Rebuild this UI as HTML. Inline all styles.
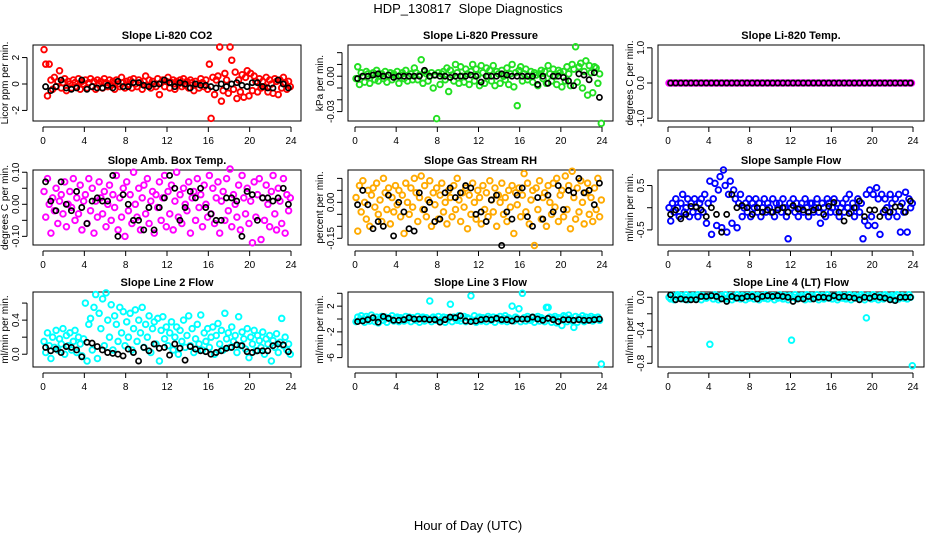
<!DOCTYPE html>
<html><head><meta charset="utf-8"><style>
body{margin:0;background:#fff;}
svg{display:block;font-family:"Liberation Sans",sans-serif;}
</style></head><body>
<svg id="chart" width="936" height="540" viewBox="0 0 936 540">
<text x="468" y="13" text-anchor="middle" font-size="13">HDP_130817&#160;&#160;Slope Diagnostics</text>
<text x="468" y="530" text-anchor="middle" font-size="13">Hour of Day (UTC)</text>
</svg>
<script>
const co2Vals=[2.6,1.5,-0.9,1.5,0.3,-0.4,0.5,-0.2,0.2,1.0,-0.3,0.1,0.4,-0.5,0.2,0.0,-0.3,0.3,0.1,-0.2,0.4,-0.4,0.2,0.0,
0.3,-0.3,0.1,0.4,-0.2,0.2,-0.4,0.3,0.0,0.2,-0.3,0.4,0.1,-0.2,0.3,-0.1,0.2,-0.4,0.3,0.0,-0.2,0.5,0.1,-0.3,
0.2,-0.1,0.3,-0.3,0.4,0.0,-0.2,0.3,0.1,-0.4,0.2,0.6,-0.1,0.3,-0.3,0.2,0.0,-0.2,0.4,-0.8,0.1,0.3,-0.2,0.2,
0.5,-0.3,0.1,0.3,-0.4,0.2,0.0,0.3,-0.2,0.4,-0.1,0.2,-0.3,0.3,0.1,-0.5,0.2,0.0,-0.3,0.4,0.1,-0.2,0.3,-0.4,
1.5,-2.6,0.5,-0.8,0.3,0.6,2.8,-1.3,-0.5,0.8,0.3,-0.7,2.8,1.8,-0.4,0.9,-1.1,0.3,-0.6,0.7,-1.0,0.5,1.0,-0.9,
0.8,-0.5,0.6,0.2,-0.6,0.4,-0.3,0.2,-0.2,0.5,-0.6,0.3,0.0,-0.7,0.4,0.2,-0.8,0.3,-0.3,0.5,0.1,-0.4,0.2,-0.2];
const co2Mean=[-0.2,-0.5,-0.2,0.3,-0.3,-0.4,-0.3,0.3,-0.4,-0.2,-0.3,-0.3,-0.1,-0.3,0.2,-0.2,-0.2,0.1,0.1,-0.1,-0.2,0.0,0.0,0.3,0.1,-0.2,0.1,0.0,-0.3,0.0,-0.1,-0.1,-0.2,-0.3,0.0,-0.2,0.0,0.1,-0.1,-0.2,0.1,0.1,-0.2,-0.3,-0.3,0.3,0.0,-0.3];
const presVals=[-0.002,0.008,-0.007,0.003,0.000,-0.005,0.004,0.002,-0.006,0.001,0.003,-0.003,0.005,-0.004,0.000,0.002,-0.002,0.004,-0.005,0.001,0.003,-0.003,0.002,0.000,
0.004,-0.006,0.001,0.003,-0.002,0.005,-0.004,0.000,0.002,-0.003,0.007,0.003,-0.003,0.001,0.014,-0.006,0.004,0.002,-0.004,0.000,0.003,-0.010,0.001,-0.036,
0.003,-0.007,0.002,0.004,-0.003,0.007,-0.013,0.005,0.001,-0.004,0.010,0.003,-0.006,0.008,0.000,-0.005,0.006,0.002,-0.007,0.004,0.010,-0.004,0.006,0.001,
-0.008,0.009,0.003,-0.006,0.007,0.000,0.005,-0.004,0.009,-0.008,0.004,0.002,-0.006,0.005,0.000,-0.003,0.007,-0.007,0.002,0.010,-0.009,0.003,-0.025,0.005,
0.008,-0.004,0.002,0.006,-0.003,0.000,0.004,-0.005,0.003,0.001,-0.008,0.002,0.005,-0.002,0.004,-0.006,0.009,0.002,-0.004,0.006,0.000,-0.007,0.005,0.003,
-0.009,0.004,-0.004,0.008,0.002,-0.008,0.010,0.006,0.025,-0.005,0.008,0.011,-0.010,0.004,0.013,-0.016,0.009,0.003,-0.014,0.008,0.007,-0.006,0.002,-0.040];
const presMean=[-0.002,0.000,0.000,0.001,0.002,0.000,0.001,-0.001,0.000,0.000,0.000,0.000,0.000,0.005,0.000,0.001,0.000,0.000,-0.001,0.000,0.000,0.000,0.001,0.000,-0.005,0.000,0.000,0.000,0.002,0.001,0.000,0.000,0.000,0.000,0.000,-0.007,0.000,-0.006,0.000,0.000,-0.001,-0.004,-0.008,0.002,0.001,-0.003,0.003,-0.018];
const tempVals=[0,0,0,0,0,0,0,0,0,0,0,0,0,0,0,0,0,0,0,0,0,0,0,0,0,0,0,0,0,0,0,0,0,0,0,0,0,0,0,0,0,0,0,0,0,0,0,0,
0,0,0,0,0,0,0,0,0,0,0,0,0,0,0,0,0,0,0,0,0,0,0,0,0,0,0,0,0,0,0,0,0,0,0,0,0,0,0,0,0,0,0,0,0,0,0,0];
const tempMean=[0,0,0,0,0,0,0,0,0,0,0,0,0,0,0,0,0,0,0,0,0,0,0,0,0,0,0,0,0,0,0,0,0,0,0,0,0,0,0,0,0,0,0,0,0,0,0,0];
const ambVals=[0.04,-0.04,0.08,0.00,-0.09,0.02,-0.02,0.05,-0.06,0.01,0.03,-0.03,0.07,-0.07,0.00,0.04,-0.01,0.08,-0.05,0.02,-0.03,0.06,-0.08,0.01,
0.03,-0.06,0.08,-0.02,0.05,-0.09,0.01,-0.04,0.07,0.02,-0.03,0.04,-0.07,0.00,0.06,-0.05,0.03,-0.01,0.09,-0.08,0.02,-0.04,0.05,-0.10,
0.07,-0.02,0.03,-0.06,0.10,0.00,-0.04,0.05,-0.08,0.02,0.06,-0.03,0.08,-0.06,0.01,0.04,-0.09,0.03,-0.01,0.07,-0.05,0.02,0.09,-0.07,
0.04,-0.03,0.06,-0.08,0.01,0.10,-0.04,0.03,-0.06,0.05,0.00,-0.02,0.07,-0.09,0.02,0.04,-0.05,0.08,-0.01,0.03,-0.07,0.06,0.00,-0.04,
0.09,-0.03,0.05,-0.06,0.02,0.07,-0.09,0.01,0.04,-0.05,0.08,-0.02,0.11,-0.07,0.03,0.00,-0.04,0.06,-0.08,0.09,0.02,-0.03,0.05,-0.06,
0.01,-0.12,0.07,-0.04,0.03,0.08,-0.11,0.02,-0.05,0.06,0.00,-0.07,0.04,0.09,-0.03,-0.08,0.05,0.01,-0.06,0.08,-0.09,0.03,-0.02,0.02];
const ambMean=[0.07,0.01,-0.02,0.07,0.00,-0.02,0.04,-0.01,-0.06,0.01,0.02,0.01,0.01,0.09,-0.10,0.03,0.00,-0.05,-0.05,-0.08,-0.01,-0.08,-0.01,0.02,0.09,0.05,-0.05,-0.01,0.04,0.02,0.05,-0.01,-0.03,-0.05,-0.05,0.02,0.02,0.01,-0.10,0.04,0.03,-0.05,0.02,0.02,0.01,0.02,0.05,0.00];
const rhVals=[0.02,-0.12,0.07,-0.04,0.09,0.00,-0.07,0.05,-0.10,0.03,0.06,-0.02,0.08,-0.05,0.01,-0.08,0.10,0.04,-0.03,0.06,-0.09,0.02,-0.04,0.07,
-0.01,0.05,-0.06,0.03,-0.13,0.08,0.00,-0.05,0.06,-0.02,0.10,0.04,-0.08,0.02,0.11,-0.03,0.07,-0.06,0.01,0.09,-0.10,0.04,-0.01,0.06,
-0.07,0.03,0.08,-0.04,0.00,-0.09,0.05,0.02,-0.06,0.07,-0.03,0.10,0.01,-0.08,0.04,-0.02,0.06,-0.11,0.03,-0.05,0.08,0.00,-0.07,0.05,
0.02,-0.09,0.07,-0.03,0.04,-0.06,0.09,0.01,-0.04,0.06,-0.10,0.03,0.00,0.08,-0.05,0.02,-0.08,0.05,-0.02,0.07,-0.13,0.04,-0.01,0.06,
-0.06,0.03,0.12,-0.04,0.08,-0.09,0.01,0.05,-0.18,0.06,-0.03,0.09,-0.07,0.02,0.04,-0.10,0.07,0.00,-0.05,0.08,-0.02,0.10,-0.08,0.03,
0.05,-0.06,0.11,-0.03,0.07,-0.11,0.13,0.02,-0.07,0.06,-0.04,0.09,0.00,-0.09,0.04,0.08,-0.05,0.02,-0.08,0.06,-0.03,0.10,-0.06,0.01];
const rhMean=[-0.01,0.05,-0.01,-0.11,-0.08,-0.10,0.03,-0.14,0.00,-0.04,-0.11,-0.12,0.04,-0.03,0.00,-0.08,-0.07,0.04,0.06,0.02,0.04,0.07,0.06,-0.05,-0.04,-0.08,0.01,0.03,-0.18,-0.04,-0.07,0.03,0.06,-0.06,-0.10,0.02,-0.07,0.03,-0.04,0.07,-0.03,0.05,0.04,0.10,0.04,0.05,-0.01,0.08];
const sampVals=[0.0,-0.3,0.1,-0.1,0.2,0.0,-0.2,0.1,0.3,-0.1,0.0,0.2,-0.2,0.1,-0.1,0.2,0.0,-0.2,0.1,0.2,-0.1,0.3,-0.35,0.1,
0.6,-0.6,0.2,0.55,-0.4,0.4,0.7,-0.45,0.85,0.5,-0.55,0.3,0.6,-0.35,0.4,0.2,-0.45,0.1,0.3,-0.2,0.0,0.1,-0.1,0.2,
-0.2,0.1,0.0,0.2,-0.1,0.1,-0.2,0.0,0.2,-0.1,0.1,0.0,-0.1,0.2,-0.2,0.1,0.0,0.1,-0.1,0.2,0.0,-0.2,-0.7,0.1,
0.0,0.2,-0.1,0.1,-0.2,0.0,0.1,-0.1,0.2,0.0,-0.2,0.1,0.1,-0.1,0.0,0.2,-0.1,-0.35,0.1,0.0,-0.2,0.2,0.1,-0.1,
0.0,0.2,-0.1,0.1,-0.2,0.0,0.1,-0.1,0.2,0.0,0.3,-0.1,0.1,-0.2,0.0,0.2,-0.1,0.1,-0.7,-0.3,0.3,-0.4,0.4,-0.2,
0.3,-0.4,0.45,0.2,-0.6,0.3,-0.1,0.2,0.0,-0.2,0.3,0.1,-0.1,0.2,-0.2,0.3,-0.55,0.1,-0.1,0.35,-0.55,0.2,0.0,0.1];
const sampMean=[-0.15,-0.05,-0.25,-0.15,0.03,0.02,-0.05,-0.2,0.0,-0.15,-0.55,-0.15,0.3,0.0,0.05,0.0,-0.15,0.0,-0.1,-0.05,-0.1,-0.05,0.0,-0.1,0.05,-0.03,-0.05,-0.1,-0.05,0.0,-0.15,0.03,0.12,-0.1,-0.3,-0.13,0.0,0.15,-0.2,-0.05,-0.05,-0.2,-0.05,-0.1,0.02,0.03,-0.1,0.15];
const l2Vals=[0.15,0.02,0.25,0.10,-0.05,0.20,0.08,0.28,0.05,0.18,0.12,0.30,0.00,0.22,0.10,0.25,0.05,0.15,0.28,0.02,0.20,0.12,-0.02,0.18,
0.60,-0.08,0.35,0.42,0.05,0.55,0.70,-0.05,0.48,0.30,0.65,0.10,0.72,0.40,0.20,0.58,0.05,0.45,0.35,0.15,0.55,0.25,0.50,0.10,
0.38,0.20,0.48,0.05,0.30,0.52,0.15,0.40,0.25,0.55,0.08,0.35,0.20,0.45,0.02,0.30,0.38,0.12,0.42,-0.08,0.28,0.44,0.18,0.32,
0.10,0.25,0.38,0.05,0.20,0.32,0.00,0.28,0.15,0.40,0.08,0.22,0.45,0.10,0.30,0.02,0.18,0.35,0.12,0.46,0.05,0.25,0.15,0.30,
0.08,0.20,0.32,0.00,0.22,0.36,0.12,0.28,0.05,0.48,0.18,0.25,0.08,0.32,0.15,0.22,0.02,0.44,0.10,0.26,0.18,0.06,0.30,-0.04,
0.20,0.12,0.28,0.04,0.22,0.16,0.08,0.26,0.00,0.18,0.12,0.22,-0.08,0.16,0.08,0.24,0.02,0.14,0.42,0.10,0.20,0.05,0.12,0.00];
const l2Mean=[0.08,0.04,0.06,0.02,0.09,0.08,0.05,-0.03,0.14,0.13,0.09,0.05,0.02,0.01,0.00,-0.02,0.06,0.02,-0.08,0.08,0.04,0.12,0.07,0.08,-0.01,0.12,0.07,-0.07,0.09,0.06,0.04,0.03,0.0,0.02,0.04,0.07,0.08,0.11,0.10,0.03,0.02,0.04,0.04,0.04,0.10,0.12,0.11,0.03];
const l3Vals=[-0.4,0.3,-0.2,0.5,0.0,-0.5,0.4,0.1,-0.3,0.6,0.2,-0.4,0.3,-0.6,0.1,0.4,-0.2,0.3,-0.5,0.2,0.0,0.5,-0.3,0.1,
0.3,-0.4,0.2,0.0,-0.3,0.4,-0.1,0.3,-0.4,0.2,0.0,-0.2,0.4,-0.5,0.1,0.3,-0.3,0.2,0.0,2.8,-0.4,0.3,0.1,-0.2,
0.4,-0.3,0.0,0.3,-0.5,0.2,0.1,2.3,-0.4,0.3,0.0,-0.2,0.5,-0.3,0.1,0.4,-0.4,0.2,0.0,3.6,-0.2,0.5,-0.5,0.1,
0.3,-0.3,0.2,0.0,-0.4,0.4,0.1,-0.2,0.3,-0.5,0.2,0.0,0.4,-0.3,0.1,0.5,-0.4,0.2,0.0,2.0,-0.3,0.3,0.1,1.6,
-0.4,4.0,0.2,-0.3,0.4,0.0,-0.2,0.3,-0.5,0.1,0.4,-0.3,0.2,0.0,-0.4,1.8,1.8,0.3,-0.5,0.1,0.4,-0.6,0.2,0.0,
-1.0,0.5,0.3,-0.4,0.6,0.1,-0.3,-1.3,0.4,-0.5,0.2,0.0,0.5,-0.4,0.3,-0.2,0.1,0.4,-0.3,0.2,0.0,0.3,-0.2,-7.0];
const l3Mean=[-0.4,-0.3,-0.1,0.2,-0.5,0.4,0.1,-0.2,-0.2,-0.1,0.2,0.0,0.0,0.0,-0.1,-0.1,-0.5,-0.1,0.3,0.2,0.5,-0.3,-0.4,-0.3,-0.1,0.0,-0.1,0.1,-0.1,-0.1,-0.3,0.0,0.0,0.0,0.3,0.0,-0.2,0.1,-0.1,-0.4,-0.1,-0.1,-0.2,-0.1,-0.2,-0.2,-0.1,0.0];
const l4Vals=[0.00,-0.02,0.02,-0.03,0.01,0.03,-0.01,0.02,-0.02,0.00,0.03,-0.03,0.01,-0.01,0.02,0.00,-0.02,0.03,0.01,-0.03,0.02,0.00,-0.01,0.01,
-0.57,0.02,-0.02,0.03,0.00,-0.03,0.01,0.02,-0.01,0.03,-0.02,0.00,0.02,-0.03,0.01,-0.01,0.03,0.00,-0.02,0.02,0.01,-0.03,0.02,-0.01,
0.00,0.03,-0.02,0.01,0.02,-0.03,0.00,0.02,-0.01,0.03,-0.02,0.01,0.00,0.02,-0.03,0.01,-0.01,0.03,0.00,-0.02,0.02,0.01,-0.03,0.02,
-0.52,0.00,0.03,-0.02,0.01,-0.01,0.02,0.00,-0.03,0.03,0.01,-0.02,0.02,0.00,-0.01,0.03,-0.03,0.01,0.02,-0.02,0.00,0.03,-0.01,0.01,
-0.02,0.02,0.00,-0.03,0.03,0.01,-0.01,0.02,-0.02,0.00,0.03,-0.03,0.01,0.02,-0.01,0.00,-0.02,0.03,0.01,-0.03,-0.25,0.02,0.00,-0.02,
0.03,-0.01,0.01,-0.03,0.02,0.00,-0.02,0.03,0.01,-0.01,0.00,0.02,-0.03,0.01,0.03,-0.02,0.00,0.02,-0.01,0.01,-0.02,0.03,0.00,-0.83];
const l4Mean=[0.03,-0.03,-0.02,-0.03,-0.03,-0.03,0.01,0.01,0.02,0.01,-0.02,-0.05,0.01,-0.01,-0.01,0.01,0.01,-0.02,0.01,0.02,0.01,0.02,0.01,0.0,-0.05,-0.02,-0.02,0.01,-0.02,0.0,0.0,-0.01,0.02,0.0,0.01,0.0,-0.01,-0.03,0.0,-0.01,0.01,0.0,-0.01,-0.03,-0.04,0.0,0.0,0.0];
const xTicks=[0,4,8,12,16,20,24];
const panelTitles=["Slope Li-820 CO2","Slope Li-820 Pressure","Slope Li-820 Temp.","Slope Amb. Box Temp.","Slope Gas Stream RH","Slope Sample Flow","Slope Line 2 Flow","Slope Line 3 Flow","Slope Line 4 (LT) Flow"];
const yTitles=["Licor ppm per min.","kPa per min.","degrees C per min.","degrees C per min.","percent per min.","ml/min per min.","ml/min per min.","ml/min per min.","ml/min per min."];
const yTickVals=[[-2,0,2],[-0.03,-0.02,-0.01,0,0.01,0.02],[-1,0,1],[-0.1,-0.05,0,0.05,0.1],[-0.15,-0.1,-0.05,0,0.05,0.1],[-0.5,0,0.5],[0,0.2,0.4,0.6],[-6,-4,-2,0,2,4],[-0.8,-0.6,-0.4,-0.2,0]];
const yTickLabels=[["-2","0","2"],["-0.03","","","0.00","",""],["-1.0","0.0","1.0"],["-0.10","","0.00","","0.10"],["-0.15","","","0.00","",""],["-0.5","","0.5"],["0.0","","0.4",""],["-6","","-2","","2",""],["-0.8","","-0.4","","0.0"]];
const yRanges=[[-2.8,2.95],[-0.038,0.0265],[-1.08,1.08],[-0.127,0.107],[-0.178,0.135],[-0.84,0.85],[-0.15,0.73],[-7.46,4.2],[-0.845,0.064]];
const seriesVals=[co2Vals,presVals,tempVals,ambVals,rhVals,sampVals,l2Vals,l3Vals,l4Vals];
const seriesMean=[co2Mean,presMean,tempMean,ambMean,rhMean,sampMean,l2Mean,l3Mean,l4Mean];
const colors=["#ff0000","#22e022","#ff00ff","#ff00ff","#ffaa00","#0000ff","#00ffff","#00ffff","#00ffff"];

const NS="http://www.w3.org/2000/svg";
const svg=document.getElementById('chart');
const cols=[{l:33,r:301,x0:43,x1:291},{l:348,r:613,x0:355,x1:602},{l:658,r:924,x0:668,x1:913}];
const rows=[{t:45,b:121},{t:170,b:245},{t:292,b:367}];
function mk(tag,attrs,parent){const e=document.createElementNS(NS,tag);for(const k in attrs)e.setAttribute(k,attrs[k]);(parent||svg).appendChild(e);return e;}
for(let p=0;p<9;p++){
  const c=cols[p%3],r=rows[Math.floor(p/3)];
  const g=mk('g',{});
  
  
  const xs=h=>c.x0+(h/24)*(c.x1-c.x0);
  const [ymin,ymax]=yRanges[p];
  const ys=v=>r.b-(v-ymin)/(ymax-ymin)*(r.b-r.t);
  const box=mk('rect',{x:c.l,y:r.t,width:c.r-c.l,height:r.b-r.t,fill:'none',stroke:'#000','stroke-width':1},g);
  
  
  const tt=mk('text',{x:(c.l+c.r)/2,y:r.t-6,'text-anchor':'middle','font-size':11,'font-weight':'bold'},g);
  tt.textContent=panelTitles[p];
  
  
  const ax=r.b+6;
  const xl=mk('line',{x1:c.x0,x2:c.x1,y1:ax,y2:ax,stroke:'#000'},g);
  
  
  xTicks.forEach(t=>{
    mk('line',{x1:xs(t),x2:xs(t),y1:ax,y2:ax+5,stroke:'#000'},g);
    const tx=mk('text',{x:xs(t),y:ax+17,'text-anchor':'middle','font-size':10},g);
    tx.textContent=t;
    
    
  });
  const yv=yTickVals[p];
  const yl=mk('line',{x1:c.l-6,x2:c.l-6,y1:ys(yv[0]),y2:ys(yv[yv.length-1]),stroke:'#000'},g);
  
  
  yv.forEach((v,i)=>{
    mk('line',{x1:c.l-11,x2:c.l-6,y1:ys(v),y2:ys(v),stroke:'#000'},g);
    if(yTickLabels[p][i]){
      const lab=mk('text',{x:c.l-14,y:ys(v),'text-anchor':'middle','font-size':10,transform:`rotate(-90 ${c.l-14} ${ys(v)})`},g);
      lab.textContent=yTickLabels[p][i];
      
      
    }
  });
  const yt=mk('text',{x:c.l-25,y:(r.t+r.b)/2,'text-anchor':'middle','font-size':10,transform:`rotate(-90 ${c.l-25} ${(r.t+r.b)/2})`},g);
  yt.textContent=yTitles[p];
  
  
  const vals=seriesVals[p];
  vals.forEach((v,i)=>{
    const h=i*24/vals.length+0.1;
    const pt=mk('circle',{cx:xs(h),cy:ys(v),r:2.8,fill:'none',stroke:colors[p],'stroke-width':1.9},g);
    
    
  });
  const mv=seriesMean[p];
  mv.forEach((v,i)=>{
    const h=(i+0.5)*24/mv.length;
    const pt=mk('circle',{cx:xs(h),cy:ys(v),r:2.6,fill:'none',stroke:'#000','stroke-width':1.7},g);
    
    
  });
}
</script>
</body></html>
